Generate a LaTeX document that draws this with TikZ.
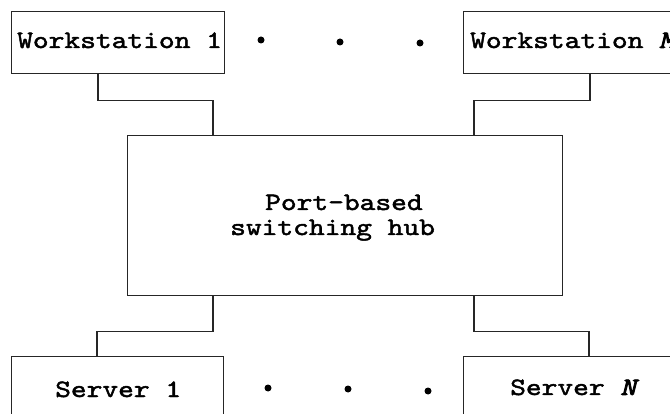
\documentclass[tikz,border=0pt]{standalone}
\usepackage{fontspec}
\newfontfamily\cour[FakeStretch=1.2,FakeBold=1.8]{lmmono10-regular.otf}
\newfontfamily\courbi[FakeStretch=1.2,FakeBold=3.5,FakeSlant=0.25]{lmmono10-regular.otf}
\begin{document}
\begin{tikzpicture}[x=1pt,y=-1pt,
  box/.style={draw=black!85,line width=1.2pt,rectangle,inner sep=0pt,anchor=north west},
  lbl/.style={font=\cour\fontsize{25}{30}\selectfont,inner sep=0pt,anchor=base west},
  wire/.style={draw=black!85,line width=1.2pt},
  dotmark/.style={circle,fill=black,inner sep=0pt,minimum size=7pt}]
\useasboundingbox (0,0) rectangle (670,414);
\clip (0,0) rectangle (670,414);
% boxes
\node[box,minimum width=213pt,minimum height=62pt] (ws1) at (11,11) {};
\node[box,minimum width=213pt,minimum height=62pt] (wsm) at (463,11) {};
\node[box,minimum width=435pt,minimum height=160pt] (hub) at (127,135) {};
\node[box,minimum width=212pt,minimum height=80pt] (s1) at (11,356) {};
\node[box,minimum width=212pt,minimum height=80pt] (sn) at (463,356) {};
% labels
\node[lbl] (t1) at (17,48) {Workstation 1};
\node[lbl] (tm) at (470,48) {Workstation {\courbi M}};
\node[lbl] (h1) at (265,210) {Port-based};
\node[lbl] (h2) at (230,235) {switching hub};
\node[lbl] (ts1) at (55,397) {Server 1};
\node[lbl] (tsn) at (510,395) {Server {\courbi N}};
% wires
\draw[wire] ([xshift=87pt]ws1.south west) -- ++(0,26) -| ([xshift=86pt]hub.north west);
\draw[wire] ([xshift=127pt]wsm.south west) -- ++(0,26) -| ([xshift=347pt]hub.north west);
\draw[wire] ([xshift=86pt]hub.south west) -- ++(0,35) -| ([xshift=86pt]s1.north west);
\draw[wire] ([xshift=347pt]hub.south west) -- ++(0,35) -| ([xshift=126pt]sn.north west);
% dots
\node[dotmark] (d1) at (261,40) {};
\node[dotmark] (d2) at (340,42) {};
\node[dotmark] (d3) at (420,43) {};
\node[dotmark] (d4) at (268,388) {};
\node[dotmark] (d5) at (348,389) {};
\node[dotmark] (d6) at (428,391) {};
\end{tikzpicture}
\end{document}
